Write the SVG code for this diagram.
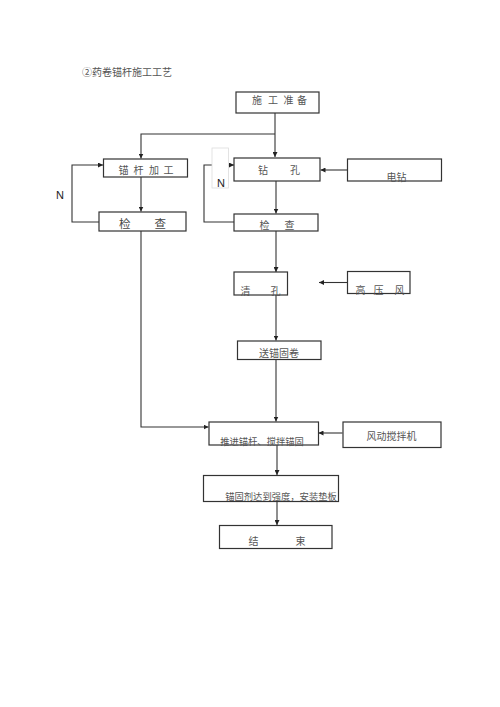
<svg xmlns="http://www.w3.org/2000/svg" width="500" height="707" viewBox="0 0 500 707">
<defs>
<marker id="ah" viewBox="0 0 10 10" refX="10" refY="5" markerWidth="5" markerHeight="5" orient="auto" markerUnits="userSpaceOnUse">
<path d="M0,0 L10,5 L0,10 z" fill="#222"/>
</marker>
</defs>
<style>
.box{fill:#fff;stroke:#333;stroke-width:1.2}
.t{font-family:"Noto Sans CJK SC","Noto Sans",sans-serif;font-size:10px;fill:#555}
.s{font-size:9.3px}
.tb{font-family:"Noto Sans CJK SC","Noto Sans",sans-serif;font-size:11.5px;fill:#444}
.n{font-family:"Liberation Sans",Arial,sans-serif;font-size:11px;fill:#222}
.c{fill:none;stroke:#333;stroke-width:1.1}
.ca{fill:none;stroke:#333;stroke-width:1.1;marker-end:url(#ah)}
</style>
<rect width="500" height="707" fill="#fff"/>
<text class="t" x="82" y="76">②药卷锚杆施工工艺</text>

<g id="connectors">
<path class="ca" d="M275,113 V157"/>
<path class="ca" d="M275,134 H141 V158.5"/>
<path class="ca" d="M141,177 V211.5"/>
<path class="ca" d="M99,222 H72 V165 H103"/>
<path class="ca" d="M276,181 V213.5"/>
<path class="ca" d="M234,222 H204 V165 H234"/>
<path class="ca" d="M347,170 H320.5"/>
<path class="ca" d="M276,231 V272"/>
<path class="ca" d="M347.5,282.5 H319"/>
<path class="ca" d="M276,294 V340.5"/>
<path class="ca" d="M276,359.5 V421.5"/>
<path class="ca" d="M141,231 V427 H208.5"/>
<path class="ca" d="M342.5,433 H318.5"/>
<path class="ca" d="M277,445 V475"/>
<path class="ca" d="M277,502 V525"/>
</g>

<g id="n-prep">
<rect class="box" x="236" y="92" width="83" height="21"/>
<text class="t" x="252 268 283.5 297" y="104">施工准备</text>
</g>
<g id="n-process">
<rect class="box" x="103.5" y="159" width="84" height="18"/>
<text class="t" x="118.5 133.5 149 163.5" y="174">锚杆加工</text>
</g>
<g id="n-check1">
<rect class="box" x="99" y="212" width="87" height="19"/>
<text class="tb" x="119 154.5" y="227.5">检查</text>
</g>
<g id="n-label-n1">
<text class="n" x="56" y="199">N</text>
</g>
<g id="n-drill">
<rect class="box" x="234" y="158" width="86" height="23"/>
<text class="t" x="258 290" y="174">钻孔</text>
</g>
<g id="n-label-n2">
<rect x="212" y="148" width="16.5" height="40" fill="#fff" stroke="#ddd" stroke-width="0.8"/>
<text class="n" x="217" y="187">N</text>
</g>
<g id="n-edrill">
<rect class="box" x="347.5" y="159" width="94" height="22"/>
<text class="t" x="386.5" y="180.5">电钻</text>
</g>
<g id="n-check2">
<rect class="box" x="234" y="214" width="84" height="17"/>
<text class="t" x="259.5 284.5" y="229">检查</text>
</g>
<g id="n-clean">
<rect class="box" x="234" y="272" width="53.5" height="23"/>
<text class="t" x="240.5 270.5" y="295">清孔</text>
</g>
<g id="n-air">
<rect class="box" x="347.5" y="271.5" width="62.5" height="22"/>
<text class="t" x="355.5 373.5 394.5" y="294">高压风</text>
</g>
<g id="n-send">
<rect class="box" x="237.5" y="341" width="83.5" height="18.5"/>
<text class="t" x="279" y="357" text-anchor="middle">送锚固卷</text>
</g>
<g id="n-push">
<rect class="box" x="209" y="422" width="109.5" height="23"/>
<text class="t s" x="262" y="444.5" text-anchor="middle">推进锚杆、搅拌锚固</text>
</g>
<g id="n-mixer">
<rect class="box" x="343" y="422" width="98" height="25.5"/>
<text class="t" x="391.5" y="440" text-anchor="middle">风动搅拌机</text>
</g>
<g id="n-cure">
<rect class="box" x="203.5" y="475.5" width="135" height="26"/>
<text class="t s" x="281" y="499.5" text-anchor="middle">锚固剂达到强度，安装垫板</text>
</g>
<g id="n-end">
<rect class="box" x="219.5" y="525.5" width="112.5" height="23"/>
<text class="t" x="248.5 295.5" y="545">结束</text>
</g>
</svg>
